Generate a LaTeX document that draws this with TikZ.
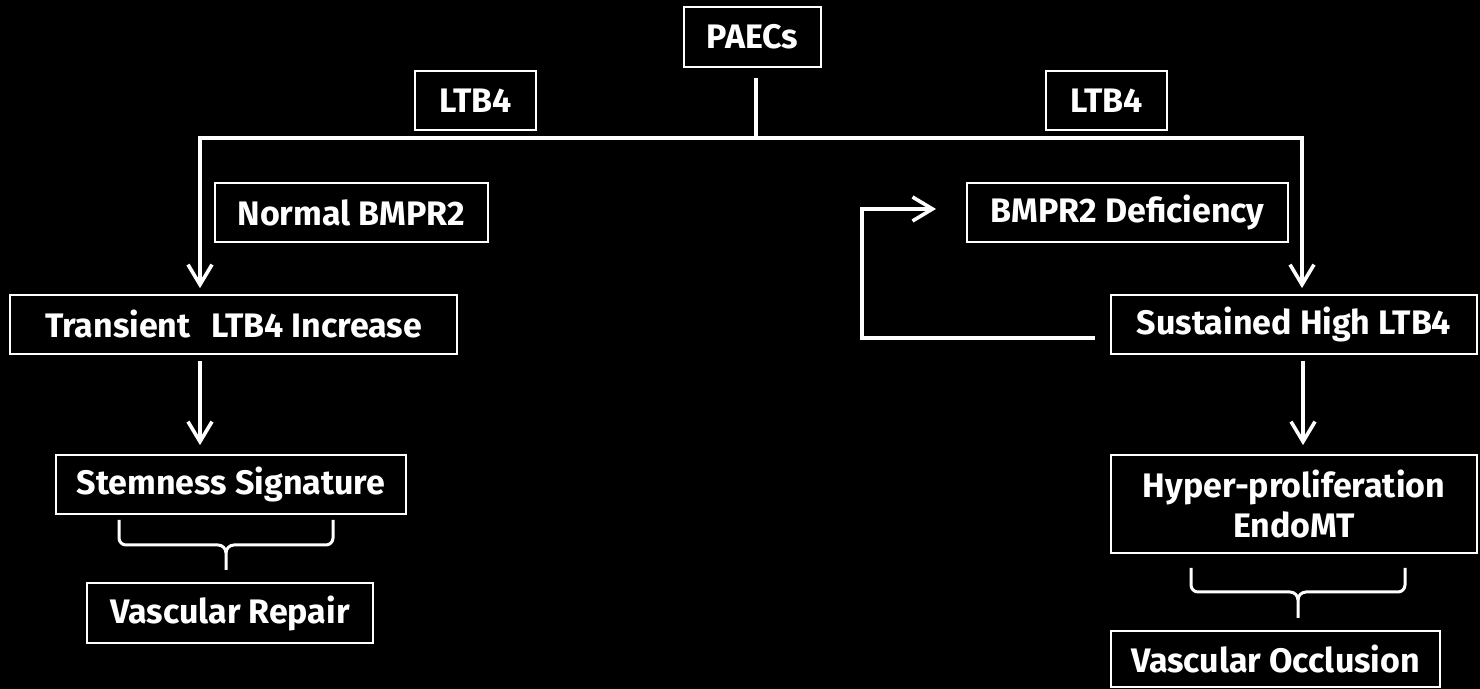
\documentclass[tikz,border=0pt]{standalone}
\usepackage{fontspec}
\setmainfont{Fira Sans}
\usetikzlibrary{arrows.meta}
\tikzset{
  box/.style={draw=white, line width=0.9pt, text=white, font=\fontsize{17}{20}\selectfont\bfseries,
    inner sep=0pt, align=center, anchor=center},
  conn/.style={draw=white, line width=1.8pt},
  arr/.style={conn, -{Straight Barb[length=10pt,width=12pt,line width=1.8pt]}},
  brace/.style={draw=white, line width=1.5pt, line join=round}
}
\begin{document}
\begin{tikzpicture}[x=0.5pt,y=-0.5pt]
\fill[black] (0,0) rectangle (1480,689);
\useasboundingbox (0,0) rectangle (1480,689);
% nodes
\node[box, minimum width=137*0.5pt, minimum height=60*0.5pt] (paecs) at (752.5,37) {PAECs};
\node[box, minimum width=121*0.5pt, minimum height=59*0.5pt] (ltbl) at (475.5,100.5) {LTB4};
\node[box, minimum width=121*0.5pt, minimum height=59*0.5pt] (ltbr) at (1106.5,100.5) {LTB4};
\node[box, minimum width=273*0.5pt, minimum height=59*0.5pt] (norm) at (351.5,212.5) {Normal BMPR2};
\node[box, minimum width=321*0.5pt, minimum height=59*0.5pt] (defi) at (1127.5,212.5) {BMPR2 Deficiency};
\node[box, minimum width=447*0.5pt, minimum height=59*0.5pt] (trans) at (233.5,324.5) {Transient\hspace{0.6em}LTB4 Increase};
\node[box, minimum width=366*0.5pt, minimum height=59*0.5pt] (sust) at (1294,324.5) {Sustained High LTB4};
\node[box, minimum width=350*0.5pt, minimum height=59*0.5pt] (stem) at (231,484.5) {Stemness Signature};
\node[box, minimum width=366*0.5pt, minimum height=98*0.5pt] (hyper) at (1294,504) {Hyper-proliferation\\EndoMT};
\node[box, minimum width=286*0.5pt, minimum height=60*0.5pt] (repair) at (230,613) {Vascular Repair};
\node[box, minimum width=329*0.5pt, minimum height=56*0.5pt] (occl) at (1275.5,659) {Vascular Occlusion};
% coordinates
\coordinate (jtop) at (756,78);
\coordinate (jmid) at (756,138);
\coordinate (lc) at (200,138);
\coordinate (rc) at (1302,138);
\coordinate (lx) at (200,0);
\coordinate (rx) at (1303,0);
\coordinate (fbs) at (1095,338);
\coordinate (fbc1) at (862,338);
\coordinate (fbc2) at (862,209);
\coordinate (fbe) at (936,209);
% connectors
\draw[conn] (jtop) -- (jmid);
\draw[conn, line cap=rect] (lc) -- (rc);
\draw[arr] (lc) -- ([yshift=3pt]trans.north -| lc);
\draw[arr] (rc) -- ([yshift=3pt]sust.north -| rc);
\draw[arr] ([yshift=-3pt]trans.south -| lx) -- ([yshift=4.5pt]stem.north -| lx);
\draw[arr] ([yshift=-3pt]sust.south -| rx) -- ([yshift=4.5pt]hyper.north -| rx);
\draw[arr, line join=miter] (fbs) -- (fbc1) -- (fbc2) -- (fbe);
% braces
\draw[brace] (119,520) -- (119,538) to[out=-90,in=180] (126,545) -- (218,545) to[out=0,in=90] (226,553) -- (226,570);
\draw[brace] (333,520) -- (333,538) to[out=-90,in=0] (326,545) -- (234,545) to[out=180,in=90] (226,553);
\draw[brace] (1191,568) -- (1191,585) to[out=-90,in=180] (1198,592) -- (1290,592) to[out=0,in=90] (1298,600) -- (1298,618);
\draw[brace] (1405,568) -- (1405,585) to[out=-90,in=0] (1398,592) -- (1306,592) to[out=180,in=90] (1298,600);
\end{tikzpicture}
\end{document}
